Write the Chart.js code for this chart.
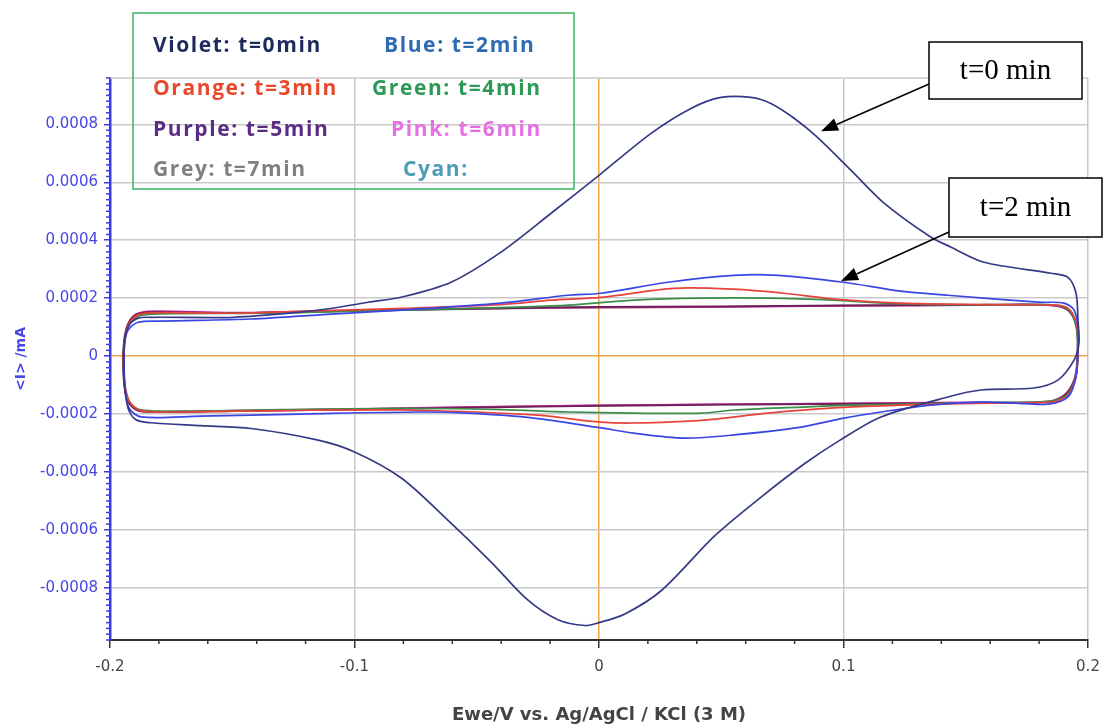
<!DOCTYPE html>
<html>
<head>
<meta charset="utf-8">
<script src="https://cdn.jsdelivr.net/npm/chart.js@4.4.1/dist/chart.umd.min.js"></script>
<style>
html,body{margin:0;padding:0;background:#ffffff;}
canvas{display:block;}
</style>
</head>
<body>
<canvas id="c" width="1103" height="727"></canvas>
<script>
// ---------- DATA ----------
// Potential (V) and current (mA) for each voltammogram loop
const t0X = [-0.1943,-0.1940,-0.1922,-0.1885,-0.1832,-0.1493,-0.1219,-0.1084,-0.0945,-0.081,-0.0605,-0.0401,-0.0196,0,0.0213,0.0376,0.0499,0.0622,0.0703,0.0798,0.0888,0.1031,0.1166,0.1358,0.144,0.1575,0.1849,0.1918,0.1951,0.1959,0.1963,0.1943,0.1877,0.1779,0.1562,0.1427,0.1153,0.0986,0.0843,0.0658,0.0474,0.0254,0.0106,0,-0.0057,-0.0168,-0.0294,-0.0442,-0.0626,-0.081,-0.1002,-0.1149,-0.1423,-0.1628,-0.1832,-0.1894,-0.1926,-0.1943,-0.1943];
const t0Y = [0,0.000055,0.000107,0.000131,0.000134,0.000134,0.000152,0.000166,0.000186,0.000203,0.000255,0.000359,0.000493,0.000624,0.000769,0.000855,0.000893,0.000893,0.000872,0.000821,0.000759,0.000641,0.000528,0.00041,0.000376,0.000324,0.000286,0.000272,0.000217,0.000124,0.000045,-0.000014,-0.000083,-0.00011,-0.000117,-0.000141,-0.00021,-0.00029,-0.00037,-0.00049,-0.00062,-0.00081,-0.00089,-0.00092,-0.00093,-0.00091,-0.00084,-0.00071,-0.00056,-0.00042,-0.00033,-0.00029,-0.00025,-0.00024,-0.00023,-0.00022,-0.00018,-0.00008,0];

const t2X = [-0.1943,-0.1943,-0.1926,-0.1885,-0.1791,-0.1423,-0.1096,-0.081,-0.0401,-0.0127,0.0008,0.0282,0.0552,0.0732,0.1002,0.1235,0.1427,0.1796,0.1902,0.1943,0.1959,0.1959,0.1951,0.1918,0.1836,0.1697,0.1562,0.1358,0.1153,0.1002,0.0826,0.0552,0.0348,0.0143,0.0008,-0.0266,-0.0536,-0.0728,-0.1219,-0.1628,-0.1873,-0.1922,-0.1939,-0.1943];
const t2Y = [0,0.000038,0.00009,0.000117,0.000121,0.000128,0.000145,0.000159,0.000183,0.00021,0.000217,0.000255,0.000279,0.000279,0.000255,0.000224,0.00021,0.000186,0.000183,0.000159,0.0001,0.00002,-0.000072,-0.000141,-0.000166,-0.000162,-0.000159,-0.000169,-0.000193,-0.000214,-0.000245,-0.000272,-0.000283,-0.000266,-0.000248,-0.000214,-0.000197,-0.000193,-0.0002,-0.000207,-0.00021,-0.00018,-0.0001,0];

const t3X = [-0.1945,-0.1935,-0.1912,-0.1875,-0.18,-0.15,-0.12,-0.08,-0.0401,-0.0196,0.0008,0.0307,0.0552,0.0757,0.0961,0.1235,0.16,0.1836,0.1902,0.1935,0.1955,0.1959,0.1951,0.1918,0.1857,0.16,0.1235,0.0961,0.0691,0.0417,0.0143,0.0008,-0.0266,-0.081,-0.13,-0.175,-0.1875,-0.1918,-0.1939,-0.1945];
const t3Y = [0,0.00008,0.000125,0.000145,0.00015,0.000148,0.000155,0.000165,0.000178,0.000193,0.000203,0.000234,0.000231,0.000217,0.000197,0.000183,0.000178,0.000176,0.000172,0.00015,0.0001,0.00002,-0.00007,-0.000135,-0.000158,-0.000162,-0.000169,-0.000179,-0.000197,-0.000222,-0.000231,-0.000228,-0.000203,-0.000186,-0.000188,-0.000193,-0.000188,-0.00016,-0.0001,0];

const t4X = [-0.1945,-0.1935,-0.1912,-0.1875,-0.18,-0.14,-0.1,-0.06,-0.03,-0.0127,0.0143,0.0417,0.0691,0.0961,0.1166,0.14,0.17,0.1875,0.1925,0.1952,0.1958,0.195,0.1915,0.185,0.16,0.13,0.1,0.0826,0.0552,0.0417,0.0143,-0.0127,-0.04,-0.08,-0.13,-0.175,-0.1878,-0.192,-0.194,-0.1945];
const t4Y = [0,0.00008,0.000122,0.00014,0.000146,0.000148,0.000155,0.000163,0.00017,0.000176,0.000193,0.0002,0.0002,0.000193,0.000183,0.000178,0.000177,0.000175,0.000155,0.0001,0.00002,-0.00007,-0.000133,-0.000155,-0.00016,-0.000165,-0.00017,-0.000176,-0.000186,-0.000197,-0.000197,-0.000193,-0.000185,-0.00018,-0.000185,-0.00019,-0.000185,-0.000158,-0.0001,0];

const t5X = [-0.1948,-0.1938,-0.1915,-0.1878,-0.18,-0.15,-0.1,-0.06,-0.02,0,0.05,0.1,0.15,0.18,0.1885,0.1928,0.1953,0.1958,0.195,0.1912,0.1845,0.15,0.1,0.05,0,-0.05,-0.1,-0.15,-0.18,-0.1885,-0.1925,-0.1942,-0.1948];
const t5Y = [0,0.00008,0.000128,0.000148,0.000152,0.000148,0.000157,0.000162,0.000168,0.00017,0.000172,0.000175,0.000177,0.000178,0.000172,0.00015,0.0001,0.00002,-0.00007,-0.00013,-0.000158,-0.000162,-0.000165,-0.000168,-0.000172,-0.000178,-0.000185,-0.00019,-0.000193,-0.000188,-0.00016,-0.0001,0];

const t6X = [-0.1946,-0.1936,-0.1913,-0.1876,-0.18,-0.15,-0.1,-0.05,0,0.05,0.1,0.15,0.18,0.1888,0.193,0.1955,0.1958,0.1948,0.191,0.184,0.15,0.1,0.05,0,-0.05,-0.1,-0.15,-0.18,-0.1883,-0.1923,-0.1941,-0.1946];
const t6Y = [0,0.00008,0.00013,0.00015,0.000155,0.00015,0.000158,0.000165,0.000168,0.00017,0.000173,0.000176,0.000177,0.00017,0.000148,0.0001,0.00002,-0.00007,-0.00013,-0.000157,-0.00016,-0.000163,-0.000166,-0.00017,-0.000175,-0.000183,-0.000188,-0.000192,-0.000187,-0.00016,-0.0001,0];

const t7X = [-0.1944,-0.1934,-0.191,-0.1872,-0.18,-0.14,-0.1,-0.05,0,0.05,0.1,0.15,0.18,0.189,0.1932,0.1955,0.1957,0.1947,0.1908,0.184,0.15,0.1,0.05,0,-0.05,-0.1,-0.15,-0.18,-0.1884,-0.1922,-0.194,-0.1944];
const t7Y = [0,0.000078,0.000125,0.000145,0.00015,0.000148,0.000156,0.000163,0.000167,0.00017,0.000174,0.000176,0.000178,0.000172,0.00015,0.0001,0.00002,-0.00007,-0.00013,-0.000156,-0.000161,-0.000164,-0.000167,-0.00017,-0.000176,-0.000183,-0.000189,-0.000192,-0.000188,-0.00016,-0.0001,0];

const seriesNames  = ['t=0 min','t=2 min','t=3 min','t=4 min','t=5 min','t=6 min','t=7 min'];
const seriesX      = [t0X, t2X, t3X, t4X, t5X, t6X, t7X];
const seriesY      = [t0Y, t2Y, t3Y, t4Y, t5Y, t6Y, t7Y];

const xTickValues = [-0.2, -0.1, 0, 0.1, 0.2];
const xTickLabels = ['-0.2', '-0.1', '0', '0.1', '0.2'];
const yTickValues = [-0.0008, -0.0006, -0.0004, -0.0002, 0, 0.0002, 0.0004, 0.0006, 0.0008];
const yTickLabels = ['-0.0008', '-0.0006', '-0.0004', '-0.0002', '0', '0.0002', '0.0004', '0.0006', '0.0008'];
const xTitle = 'Ewe/V vs. Ag/AgCl / KCl (3 M)';
const yTitle = '<I> /mA';

const legendTexts = ['Violet: t=0min', 'Blue: t=2min', 'Orange: t=3min', 'Green: t=4min',
                     'Purple: t=5min', 'Pink: t=6min', 'Grey: t=7min', 'Cyan:'];

const calloutTexts = ['t=0 min', 't=2 min'];
const calloutTipX  = [0.0908, 0.099];
const calloutTipY  = [0.000776, 0.000259];

// ---------- STYLE ----------
const seriesColors = ['#343a86', '#3a46e4', '#e8423c', '#3b8d4c', '#6a1f55', '#c8259f', '#847474'];
const legendColors = ['#1d2b5c', '#2d6cb2', '#e8482c', '#2b9a55', '#5b2c84', '#e56fe3', '#808080', '#4d9bb6'];
// legend layout: [x, y] in pixels
const legendPos = [[153,46],[384,46],[153,89],[372,89],[153,130],[391,130],[153,170],[403,170]];
const calloutBoxes = [{x:929,y:42,w:153,h:57,tailY:84},{x:949,y:178,w:153,h:59,tailY:232}];

const GRID = '#c9c9c9';
const ORANGE = '#f4a246';
const AXISBLUE = '#3b3be6';

const decor = {
  id: 'decor',
  beforeDraw(chart) {
    const ctx = chart.ctx;
    ctx.save();
    ctx.fillStyle = '#ffffff';
    ctx.fillRect(0, 0, chart.width, chart.height);
    ctx.restore();
  },
  beforeDatasetsDraw(chart) {
    const {ctx, chartArea: a} = chart;
    ctx.save();
    ctx.strokeStyle = GRID;
    ctx.lineWidth = 1.5;
    ctx.beginPath();
    ctx.moveTo(a.left, a.top);
    ctx.lineTo(a.right, a.top);
    ctx.stroke();
    ctx.restore();
  },
  afterDraw(chart) {
    const {ctx, chartArea: a, scales: {x, y}} = chart;
    ctx.save();
    // minor ticks on x axis
    ctx.strokeStyle = '#333';
    ctx.lineWidth = 1.5;
    for (let i = -10; i <= 10; i++) {
      if (i % 5 === 0) continue;
      const px = x.getPixelForValue(i * 0.02);
      ctx.beginPath();
      ctx.moveTo(px, a.bottom);
      ctx.lineTo(px, a.bottom + 4);
      ctx.stroke();
    }
    // minor ticks on y axis
    ctx.strokeStyle = AXISBLUE;
    for (let i = -49; i <= 48; i++) {
      if (i % 10 === 0) continue;
      const py = y.getPixelForValue(i * 0.00002);
      ctx.beginPath();
      ctx.moveTo(a.left, py);
      ctx.lineTo(a.left - 4, py);
      ctx.stroke();
    }
    // legend box
    ctx.strokeStyle = '#3db463';
    ctx.lineWidth = 1.5;
    ctx.strokeRect(133, 13, 441, 176);
    ctx.font = 'bold 21px "Open Sans"';
    try { ctx.letterSpacing = '1.6px'; } catch (e) {}
    ctx.textBaseline = 'middle';
    ctx.textAlign = 'left';
    legendTexts.forEach((t, i) => {
      ctx.fillStyle = legendColors[i];
      ctx.fillText(t, legendPos[i][0], legendPos[i][1]);
    });
    try { ctx.letterSpacing = '0px'; } catch (e) {}
    // callouts
    calloutTexts.forEach((t, i) => {
      const b = calloutBoxes[i];
      const tx = x.getPixelForValue(calloutTipX[i]);
      const ty = y.getPixelForValue(calloutTipY[i]);
      const sx = b.x, sy = b.tailY;
      const ang = Math.atan2(ty - sy, tx - sx);
      const head = 17, half = 6.5;
      const bx = tx - head * Math.cos(ang), by = ty - head * Math.sin(ang);
      ctx.strokeStyle = '#000';
      ctx.lineWidth = 1.5;
      ctx.beginPath();
      ctx.moveTo(sx, sy);
      ctx.lineTo(bx, by);
      ctx.stroke();
      ctx.fillStyle = '#000';
      ctx.beginPath();
      ctx.moveTo(tx, ty);
      ctx.lineTo(bx + half * Math.sin(ang), by - half * Math.cos(ang));
      ctx.lineTo(bx - half * Math.sin(ang), by + half * Math.cos(ang));
      ctx.closePath();
      ctx.fill();
      ctx.fillStyle = '#ffffff';
      ctx.fillRect(b.x, b.y, b.w, b.h);
      ctx.strokeStyle = '#000';
      ctx.lineWidth = 1.5;
      ctx.strokeRect(b.x, b.y, b.w, b.h);
      ctx.fillStyle = '#000';
      ctx.font = '29px "Liberation Serif"';
      ctx.textAlign = 'center';
      ctx.textBaseline = 'middle';
      ctx.fillText(t, b.x + b.w / 2, b.y + b.h / 2 + 1);
    });
    ctx.restore();
  }
};

new Chart(document.getElementById('c'), {
  type: 'scatter',
  data: {
    datasets: seriesNames.map((n, i) => ({
      label: n,
      data: seriesX[i].map((v, j) => ({x: v, y: seriesY[i][j]})),
      showLine: true,
      fill: false,
      borderColor: seriesColors[i],
      backgroundColor: seriesColors[i],
      borderWidth: 1.7,
      pointRadius: 0,
      pointHoverRadius: 0,
      tension: 0.3
    }))
  },
  options: {
    responsive: false,
    animation: false,
    devicePixelRatio: 1,
    layout: {padding: {top: 78, right: 15, left: 0, bottom: 0}},
    plugins: {legend: {display: false}, tooltip: {enabled: false}},
    scales: {
      x: {
        type: 'linear', min: -0.2, max: 0.2,
        afterBuildTicks: s => { s.ticks = xTickValues.map(v => ({value: v})); },
        afterFit: s => { s.height = 87; s.paddingLeft = 0; s.paddingRight = 0; },
        ticks: {
          callback: (v, i) => xTickLabels[i],
          color: '#444', font: {family: 'DejaVu Sans', size: 15},
          padding: 10, maxRotation: 0, autoSkip: false
        },
        grid: {
          color: c => (c.tick && c.tick.value === 0) ? ORANGE : ((c.tick && c.tick.value === -0.2) ? 'rgba(0,0,0,0)' : GRID),
          lineWidth: 1.5, tickLength: 8, tickColor: '#333', tickWidth: 1.5
        },
        border: {color: '#333', width: 2},
        title: {display: true, text: xTitle, color: '#444',
                font: {family: 'DejaVu Sans', size: 18, weight: 'bold'}, padding: {top: 0, bottom: 1}}
      },
      y: {
        type: 'linear', min: -0.00098, max: 0.00096,
        afterBuildTicks: s => { s.ticks = yTickValues.map(v => ({value: v})); },
        afterFit: s => { s.width = 110; s.paddingTop = 0; s.paddingBottom = 0; },
        ticks: {
          callback: (v, i) => yTickLabels[i],
          color: '#4646e6', font: {family: 'DejaVu Sans', size: 15},
          padding: 6, autoSkip: false
        },
        grid: {
          color: c => (c.tick && c.tick.value === 0) ? ORANGE : GRID,
          lineWidth: 1.5, tickLength: 6, tickColor: AXISBLUE, tickWidth: 1.5
        },
        border: {color: AXISBLUE, width: 2.5},
        title: {display: true, text: yTitle, color: '#4646e6',
                font: {family: 'DejaVu Sans', size: 14, weight: 'bold'}, padding: {top: 12.6, bottom: 0}}
      }
    }
  },
  plugins: [decor]
});
</script>
</body>
</html>
